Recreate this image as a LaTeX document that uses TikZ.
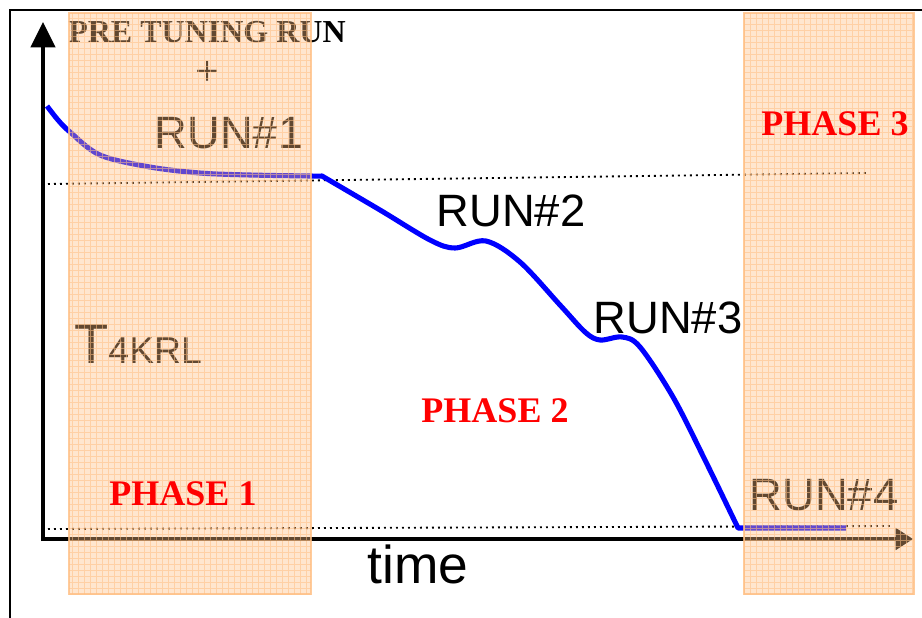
\documentclass[tikz,border=0pt]{standalone}
\usepackage{fontspec}
\setmainfont{Liberation Serif}
\setsansfont{Liberation Sans}
\usetikzlibrary{positioning}
\usetikzlibrary{arrows.meta}

\begin{document}
\begin{tikzpicture}[x=0.75pt, y=-0.75pt,
		runlabel/.style={font=\sffamily\fontsize{34}{40}\selectfont, anchor=base, inner sep=0pt},
		phaselabel/.style={font=\bfseries\fontsize{27}{32}\selectfont, text=PHASERED, anchor=base, inner sep=0pt},
		levelline/.style={line width=1.4pt, dash pattern=on 1.4pt off 3.1pt},
		axisline/.style={line width=3pt}]
			\useasboundingbox (0,0) rectangle (922,618);
			\definecolor{CURVE}{RGB}{0, 0, 255}
			\definecolor{PEACH}{RGB}{255, 190, 130}
			\definecolor{PHASERED}{RGB}{255, 0, 0}
			% frame
			\draw[line width=1.3pt] (10,618) -- (10,10) -- (922,10);
			% axes
			\coordinate (origin) at ( 43, 539);
			\coordinate (ytip)   at ( 43,  22);
			\coordinate (xtip)   at (913, 539);
			\draw[axisline, -{Triangle[width=18pt, length=19pt]}] ([yshift=-1.5pt]origin) to (ytip);
			\draw[axisline, -{Triangle[width=16pt, length=13pt]}] (origin) to (xtip);
			% levels
			\coordinate (startlevelw) at ( 48, 184);
			\coordinate (startlevele) at (867, 173);
			\coordinate (endlevelw)   at ( 48, 529);
			\coordinate (endlevele)   at (893, 526);
			\draw[levelline] (startlevelw) to (startlevele);
			\draw[levelline] (endlevelw) to (endlevele);
			% temperature curve
			\draw[CURVE, line width=3.8pt, line join=round]
				plot[smooth, tension=0.55] coordinates {(47,106) (58,120) (70,132) (100,155) (150,167) (200,173) (250,175) (310,176) (322,176)}
				-- plot[smooth, tension=0.55] coordinates {(322,176) (380,210) (430,240) (455,248) (486,241) (520,262) (560,305) (585,332) (600,340) (622,337) (640,347) (673,397) (705,460) (738,528)}
				-- (846,528);
			% labels
			\node[inner sep=0pt, anchor=base, font=\bfseries\fontsize{24}{28}\selectfont] (pretuning) at (207, 42) {PRE TUNING RUN};
			\node[inner sep=0pt, font=\fontsize{32}{36}\selectfont] (plus) at (208, 73) {+};
			\node[runlabel] (run1) at (229, 148) {RUN\#1};
			\node[runlabel] (run2) at (511, 226) {RUN\#2};
			\node[runlabel] (run3) at (668, 333) {RUN\#3};
			\node[runlabel] (run4) at (824, 510) {RUN\#4};
			\node[inner sep=0pt, anchor=base west, font=\sffamily] (tlabel) at (74, 363) {\fontsize{42}{46}\selectfont T\fontsize{28}{30}\selectfont 4KRL};
			\node[runlabel, font=\sffamily\fontsize{40}{44}\selectfont] (timelabel) at (418, 583) {time};
			% phase bands
			\foreach \lo/\hi in {69/311, 744/914} {
				\fill[PEACH, fill opacity=0.38] (\lo,13) rectangle (\hi,594);
				\draw[PEACH, opacity=0.55, line width=0.4pt, step=4.5pt] (\lo,13) grid (\hi,594);
				\draw[PEACH, opacity=0.8, line width=1.5pt] (\lo,13) rectangle (\hi,594);
			}
			\node[phaselabel] (phase1) at (183, 505) {PHASE 1};
			\node[phaselabel] (phase2) at (495, 422) {PHASE 2};
			\node[phaselabel] (phase3) at (835, 135) {PHASE 3};
		\end{tikzpicture}
\end{document}
